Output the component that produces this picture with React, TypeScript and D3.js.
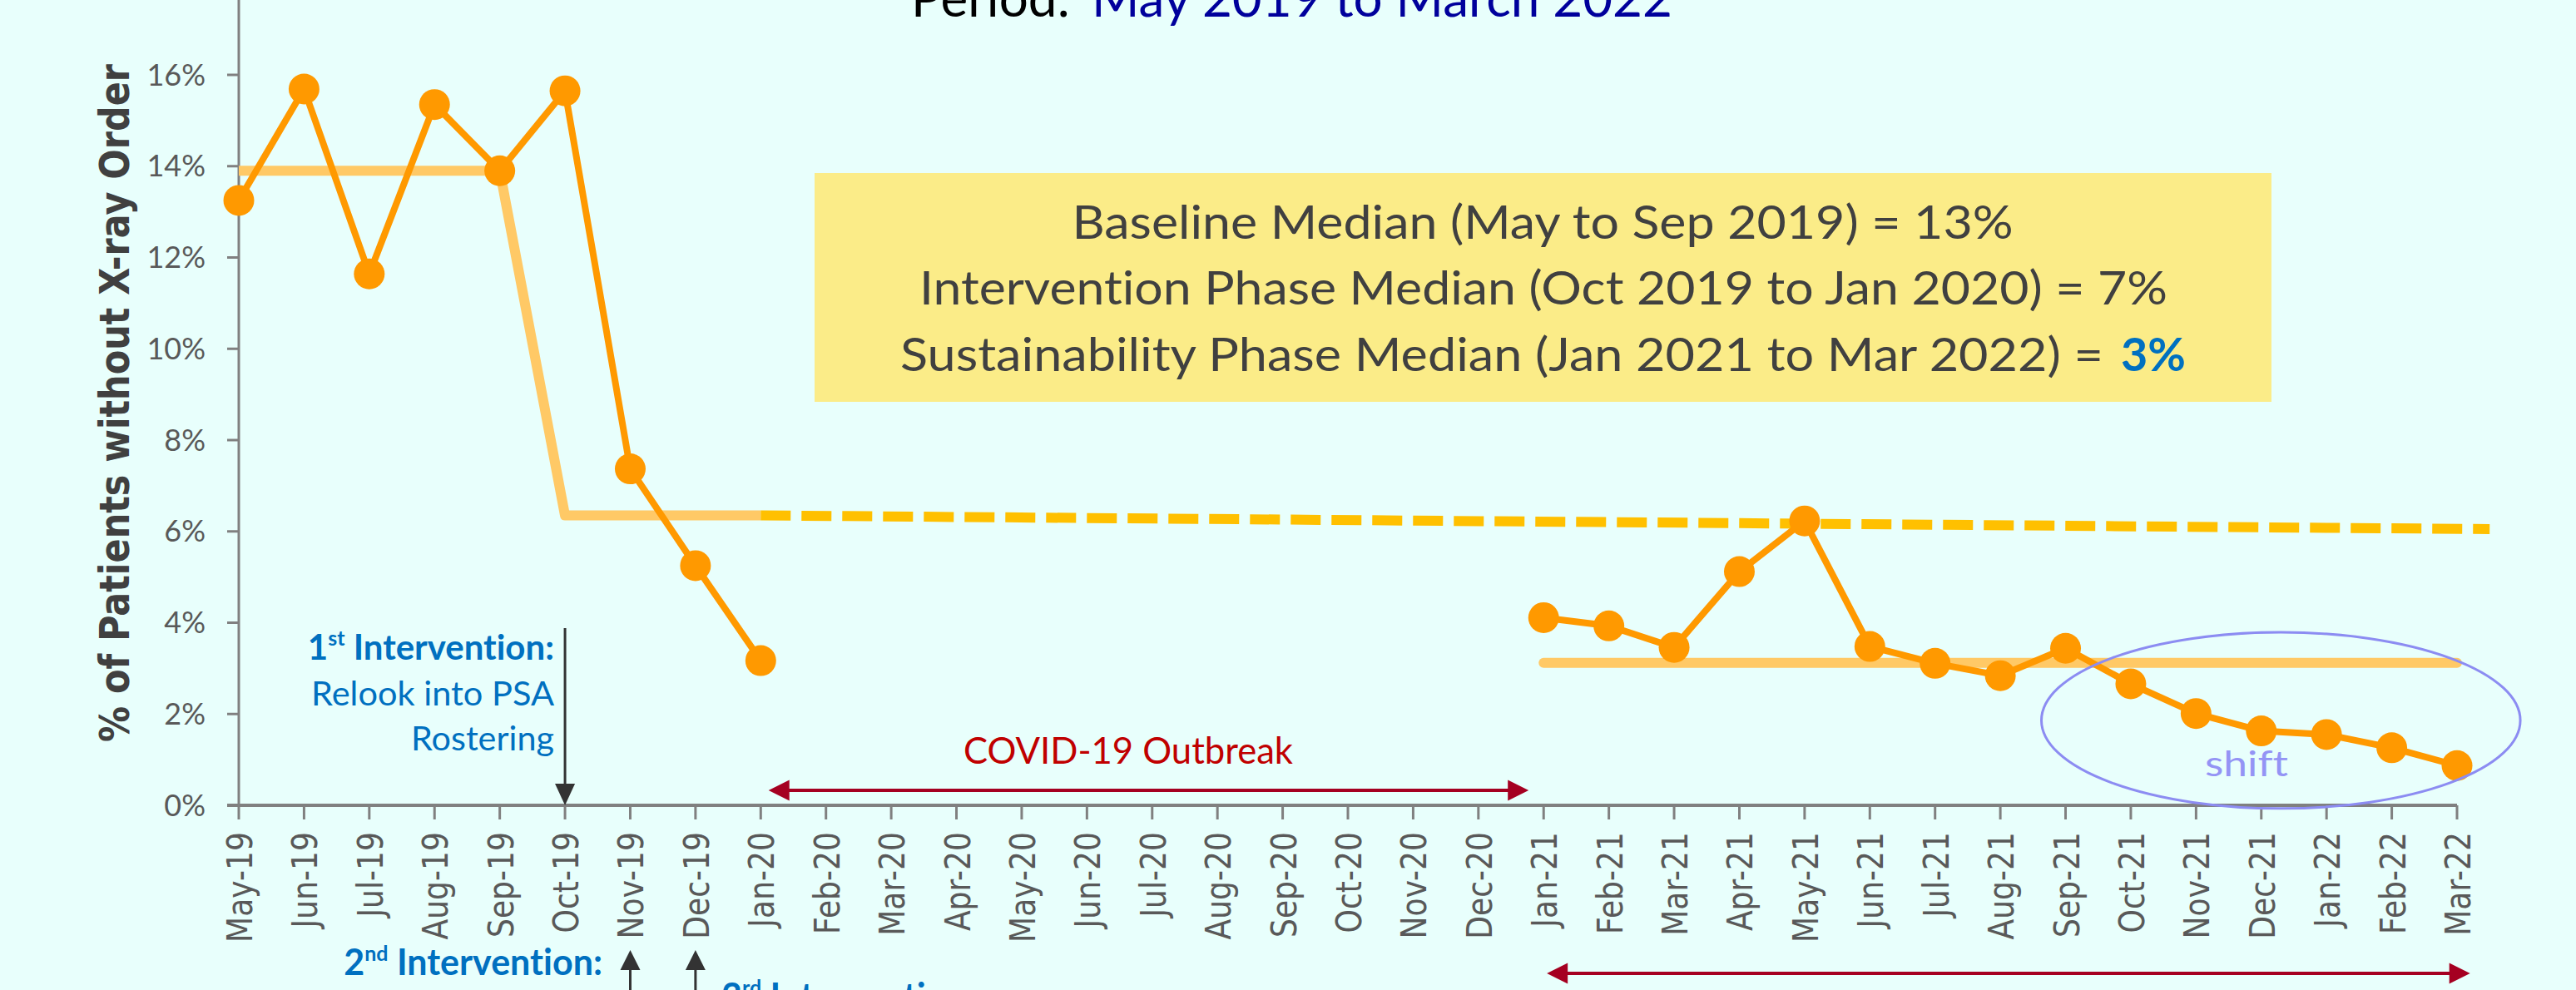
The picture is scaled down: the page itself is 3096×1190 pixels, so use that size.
import React from 'react';
import * as d3 from 'd3';

const months = ['May-19','Jun-19','Jul-19','Aug-19','Sep-19','Oct-19','Nov-19','Dec-19','Jan-20','Feb-20','Mar-20','Apr-20','May-20','Jun-20','Jul-20','Aug-20','Sep-20','Oct-20','Nov-20','Dec-20','Jan-21','Feb-21','Mar-21','Apr-21','May-21','Jun-21','Jul-21','Aug-21','Sep-21','Oct-21','Nov-21','Dec-21','Jan-22','Feb-22','Mar-22'];
const pctNoXray: (number | null)[] = [13.25, 15.69, 11.64, 15.35, 13.9, 15.65, 7.37, 5.25, 3.17,
  null, null, null, null, null, null, null, null, null, null, null,
  4.11, 3.93, 3.46, 5.12, 6.23, 3.48, 3.11, 2.84, 3.44, 2.66, 2.01, 1.63, 1.55, 1.26, 0.87];
const yTicks = [0, 2, 4, 6, 8, 10, 12, 14, 16];
const baselineMedian: [number, number][] = [[0, 13.9], [4, 13.9], [5, 6.35], [8, 6.35]];
const projectedMedian: [number, number][] = [[8, 6.35], [34.5, 6.05]];
const sustainMedian: [number, number][] = [[20, 3.12], [34, 3.12]];
const covidSpan: [number, number] = [8.12, 19.77];
const sustainSpan: [number, number] = [20.05, 34.2];
const shiftEllipse = { cx: 31.3, cy: 1.86, rx: 3.67, ry: 1.93 };
const boxLines = [
  'Baseline Median (May to Sep 2019) = 13%',
  'Intervention Phase Median (Oct 2019 to Jan 2020) = 7%',
  'Sustainability Phase Median (Jan 2021 to Mar 2022) =',
];

const W = 3096, H = 1190;
const CAL = 'Lato, "Open Sans", sans-serif';

export default function App() {
  const x = d3.scaleLinear().domain([0, months.length - 1]).range([287, 2953]);
  const y = d3.scaleLinear().domain([0, 16]).range([968, 90]);
  const x0 = x(0), y0 = y(0);

  const dataLine = d3.line<number | null>()
    .defined((d) => d != null)
    .x((_, i) => x(i))
    .y((d) => y(d as number));
  const pairLine = d3.line<[number, number]>().x((d) => x(d[0])).y((d) => y(d[1]));

  const hArrow = (xa: number, xb: number, yy: number) => {
    const L = 25, hw = 12.5;
    return `M${xa},${yy} L${xa + L},${yy - hw} L${xa + L},${yy + hw} Z M${xb},${yy} L${xb - L},${yy - hw} L${xb - L},${yy + hw} Z`;
  };
  const red = '#A50021';

  return (
    <svg width={W} height={H} style={{ position: 'absolute', left: 0, top: 0, display: 'block', fontVariantLigatures: 'none', fontFeatureSettings: '"liga" 0, "clig" 0' }}>
      <rect x={0} y={0} width={W} height={H} fill="#E8FFFC" />

      {/* Title */}
      <text x={1095} y={20} fontFamily={CAL} fontSize={61} fill="#000" textLength={191} lengthAdjust="spacingAndGlyphs">Period:</text>
      <text x={1312} y={20} fontFamily={CAL} fontSize={61} fill="#00009C" textLength={698} lengthAdjust="spacingAndGlyphs">May 2019 to March 2022</text>

      {/* Summary box */}
      <rect x={979} y={208} width={1751} height={275} fill="#FBEC88" />
      <text x={1854} y={287} textAnchor="middle" fontFamily={CAL} fontSize={56} fill="#404040" textLength={1131} lengthAdjust="spacingAndGlyphs">{boxLines[0]}</text>
      <text x={1855} y={366} textAnchor="middle" fontFamily={CAL} fontSize={56} fill="#404040" textLength={1500} lengthAdjust="spacingAndGlyphs">{boxLines[1]}</text>
      <text x={1082} y={446} fontFamily={CAL} fontSize={56} fill="#404040" textLength={1446} lengthAdjust="spacingAndGlyphs">{boxLines[2]}</text>
      <text x={2549} y={446} fontFamily={CAL} fontSize={56} fontWeight="bold" fill="#0070C0" textLength={78} lengthAdjust="spacingAndGlyphs">3%</text>

      {/* Axes */}
      <line x1={x0} y1={y(18)} x2={x0} y2={y0} stroke="#808080" strokeWidth={3} />
      <line x1={x0 - 14} y1={y0} x2={x(months.length - 1)} y2={y0} stroke="#808080" strokeWidth={4} />
      {yTicks.map((t) => (
        <g key={t}>
          <line x1={x0 - 14} x2={x0} y1={y(t)} y2={y(t)} stroke="#808080" strokeWidth={3} />
          <text x={247} y={y(t)} dy="0.35em" textAnchor="end" fontFamily={CAL} fontSize={36} fill="#595959">{t}%</text>
        </g>
      ))}
      {months.map((m, i) => (
        <g key={m}>
          <line x1={x(i)} x2={x(i)} y1={y0} y2={y0 + 17} stroke="#808080" strokeWidth={3} />
          <text transform={`translate(${x(i) + 16},1000) rotate(-90) scale(0.84,1)`} textAnchor="end"
            fontFamily='"DejaVu Sans", Verdana, sans-serif' fontSize={43} fill="#595959">{m}</text>
        </g>
      ))}
      <text transform={`translate(155,484.5) rotate(-90)`} textAnchor="middle" fontFamily='"DejaVu Sans", Verdana, sans-serif'
        fontWeight="bold" fontSize={50} fill="#404040" textLength={815} lengthAdjust="spacingAndGlyphs">% of Patients without X-ray Order</text>

      {/* Median lines */}
      <path d={pairLine(baselineMedian) || ''} fill="none" stroke="#FFC966" strokeWidth={12} strokeLinejoin="round" />
      <path d={pairLine(projectedMedian) || ''} fill="none" stroke="#FFC000" strokeWidth={12} strokeDasharray="36 13" />
      <path d={pairLine(sustainMedian) || ''} fill="none" stroke="#FFC966" strokeWidth={12} strokeLinecap="round" />

      {/* Data */}
      <path d={dataLine(pctNoXray) || ''} fill="none" stroke="#FF9900" strokeWidth={8} strokeLinejoin="round" />
      {pctNoXray.map((v, i) => v == null ? null : (
        <circle key={i} cx={x(i)} cy={y(v)} r={18.5} fill="#FF9900" />
      ))}

      {/* Shift ellipse */}
      <ellipse cx={x(shiftEllipse.cx)} cy={y(shiftEllipse.cy)} rx={x(shiftEllipse.rx) - x(0)} ry={y(0) - y(shiftEllipse.ry)}
        fill="none" stroke="#8C8CF2" strokeWidth={3} />
      <text x={2650} y={933} fontFamily={CAL} fontSize={42} fill="#9494F5" textLength={100} lengthAdjust="spacingAndGlyphs">shift</text>

      {/* COVID arrow */}
      <line x1={x(covidSpan[0]) + 10} x2={x(covidSpan[1]) - 10} y1={950} y2={950} stroke={red} strokeWidth={4} />
      <path d={hArrow(x(covidSpan[0]), x(covidSpan[1]), 950)} fill={red} />
      <text x={1158} y={918} fontFamily={CAL} fontSize={45} fill="#C00000" textLength={396} lengthAdjust="spacingAndGlyphs">COVID-19 Outbreak</text>

      {/* Sustainability arrow */}
      <line x1={x(sustainSpan[0]) + 10} x2={x(sustainSpan[1]) - 10} y1={1170} y2={1170} stroke={red} strokeWidth={4} />
      <path d={hArrow(x(sustainSpan[0]), x(sustainSpan[1]), 1170)} fill={red} />

      {/* 1st intervention */}
      <line x1={x(5)} x2={x(5)} y1={755} y2={945} stroke="#333" strokeWidth={3} />
      <path d={`M${x(5)},${y0} L${x(5) - 12},${y0 - 26} L${x(5) + 12},${y0 - 26} Z`} fill="#333" />
      <text x={666} y={793} textAnchor="end" fontFamily={CAL} fontWeight="bold" fontSize={42} fill="#0070C0">
        1<tspan fontSize={25} dy={-17}>st</tspan><tspan dy={17}> Intervention:</tspan>
      </text>
      <text x={666} y={848} textAnchor="end" fontFamily={CAL} fontSize={40} fill="#0070C0" textLength={292} lengthAdjust="spacingAndGlyphs">Relook into PSA</text>
      <text x={666} y={902} textAnchor="end" fontFamily={CAL} fontSize={40} fill="#0070C0" textLength={172} lengthAdjust="spacingAndGlyphs">Rostering</text>

      {/* 2nd / 3rd intervention */}
      {[6, 7].map((i) => (
        <g key={i}>
          <line x1={x(i)} x2={x(i)} y1={1160} y2={H + 10} stroke="#333" strokeWidth={3} />
          <path d={`M${x(i)},1142 L${x(i) - 12},1166 L${x(i) + 12},1166 Z`} fill="#333" />
        </g>
      ))}
      <text x={724} y={1172} textAnchor="end" fontFamily={CAL} fontWeight="bold" fontSize={43} fill="#0070C0">
        2<tspan fontSize={25} dy={-17}>nd</tspan><tspan dy={17}> Intervention:</tspan>
      </text>
      <text x={867} y={1213} fontFamily={CAL} fontWeight="bold" fontSize={43} fill="#0070C0">
        3<tspan fontSize={25} dy={-17}>rd</tspan><tspan dy={17}> Intervention:</tspan>
      </text>
    </svg>
  );
}
